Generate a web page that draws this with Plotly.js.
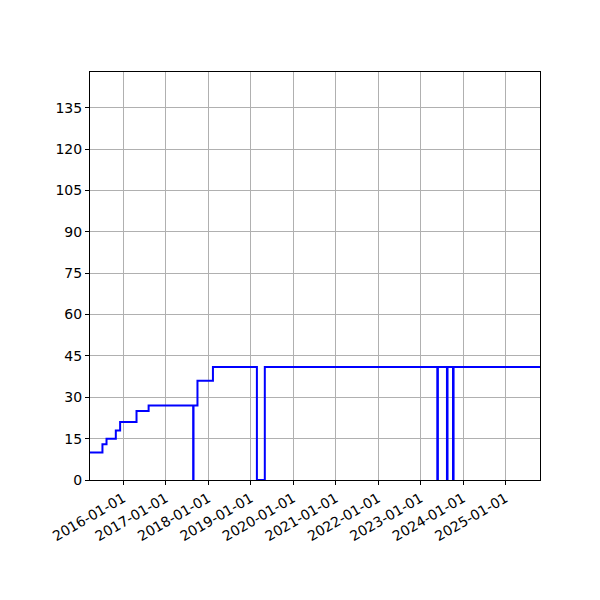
<!DOCTYPE html>
<html>
<head>
<meta charset="utf-8">
<script src="https://cdn.plot.ly/plotly-3.0.1.min.js"></script>
<style>
  body { margin: 0; background: #fff; }
  #chart { width: 600px; height: 600px; }
</style>
</head>
<body>
<div id="chart"></div>
<script>
// step dates and values
const dates = [
    '2015-03-01', '2015-07-07', '2015-08-11', '2015-10-30', '2015-12-06',
    '2016-04-25', '2016-08-07', '2017-08-25', '2017-08-28', '2017-10-01',
    '2018-02-11', '2019-02-24', '2019-05-03', '2023-05-25', '2023-05-30',
    '2023-08-16', '2023-08-21', '2023-10-07', '2023-10-12', '2025-12-31'
];
const values = [
    10, 13, 15, 18, 21,
    25, 27, 0, 27, 36,
    41, 0, 41, 0, 41,
    0, 41, 0, 41, 41
];

const yTicks = [0, 15, 30, 45, 60, 75, 90, 105, 120, 135];
const xTicks = ['2016-01-01', '2017-01-01', '2018-01-01', '2019-01-01', '2020-01-01',
    '2021-01-01', '2022-01-01', '2023-01-01', '2024-01-01', '2025-01-01'];

const trace = {
    x: dates,
    y: values,
    mode: 'lines',
    line: { color: '#0000ff', width: 2, shape: 'hv' },
    hoverinfo: 'none'
};

const axisStyle = {
    showline: true,
    mirror: true,
    linecolor: 'black',
    linewidth: 1,
    ticks: 'outside',
    ticklen: 4,
    tickcolor: 'black',
    showgrid: true,
    gridcolor: '#b0b0b0',
    gridwidth: 1,
    zeroline: false,
    tickfont: { family: 'DejaVu Sans', size: 14, color: 'black' }
};

const layout = {
    width: 600,
    height: 600,
    showlegend: false,
    paper_bgcolor: 'white',
    plot_bgcolor: 'white',
    margin: { l: 90, r: 60, t: 72, b: 120 },
    xaxis: Object.assign({}, axisStyle, {
        type: 'date',
        range: ['2015-03-22', '2025-10-24'],
        tickmode: 'array',
        tickvals: xTicks,
        ticktext: xTicks,
        tickangle: -30
    }),
    yaxis: Object.assign({}, axisStyle, {
        range: [0, 148],
        tickmode: 'array',
        tickvals: yTicks,
        ticktext: yTicks.map(String)
    })
};

Plotly.newPlot('chart', [trace], layout, { staticPlot: true });
</script>
</body>
</html>
